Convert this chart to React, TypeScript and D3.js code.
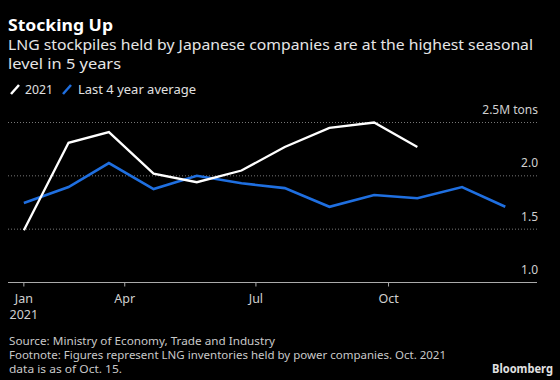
import React from "react";
import * as d3 from "d3";

const pointDates = [
  "2021-01-21", "2021-02-21", "2021-03-21", "2021-04-21", "2021-05-21", "2021-06-21",
  "2021-07-21", "2021-08-21", "2021-09-21", "2021-10-21", "2021-11-21", "2021-12-21",
];
const series2021 = [1.49, 2.31, 2.41, 2.02, 1.94, 2.05, 2.27, 2.45, 2.5, 2.27];
const seriesAvg = [1.745, 1.895, 2.12, 1.876, 2.0, 1.93, 1.885, 1.71, 1.82, 1.79, 1.895, 1.71];
const xTickDates = ["2021-01-21", "2021-04-01", "2021-07-01", "2021-10-01"];
const xTickLabels = [["Jan", "2021"], ["Apr"], ["Jul"], ["Oct"]];
const yTicks = [1.0, 1.5, 2.0, 2.5];
const yTickLabels = ["1.0", "1.5", "2.0", "2.5M tons"];
const legendLabels = ["2021", "Last 4 year average"];

const W = 560;
const H = 380;
const FONT = "'Noto Sans', 'DejaVu Sans', sans-serif";
const WHITE = "#ffffff";
const BLUE = "#1f6fe0";

export default function App() {
  const x = d3
    .scaleUtc()
    .domain([new Date("2021-01-10T00:00:00Z"), new Date("2022-01-12T00:00:00Z")])
    .range([8, 537]);
  const y = d3.scaleLinear().domain([1, 2.5]).range([282.5, 122.5]);

  const pd = pointDates.map((s) => new Date(s + "T00:00:00Z"));
  const line = d3
    .line<number>()
    .x((_, i) => x(pd[i]))
    .y((v) => y(v));

  return (
    <svg
      width={W}
      height={H}
      style={{ position: "absolute", left: 0, top: 0, background: "#000" }}
      fontFamily={FONT}
    >
      <rect x={0} y={0} width={W} height={H} fill="#000" />
      {/* Title */}
      <text x={8} y={31} fill="#fff" fontSize={16.5} fontWeight="bold" textLength={105} lengthAdjust="spacingAndGlyphs">
        Stocking Up
      </text>
      <text x={8} y={50} fill="#e6e6e6" fontSize={14} textLength={525} lengthAdjust="spacingAndGlyphs">
        LNG stockpiles held by Japanese companies are at the highest seasonal
      </text>
      <text x={8} y={69} fill="#e6e6e6" fontSize={14} textLength={113} lengthAdjust="spacingAndGlyphs">
        level in 5 years
      </text>

      {/* Legend */}
      <line x1={11} y1={94} x2={19} y2={85} stroke={WHITE} strokeWidth={2.5} />
      <text x={25} y={94} fill="#e0e0e0" fontSize={12.5} textLength={28} lengthAdjust="spacingAndGlyphs">
        {legendLabels[0]}
      </text>
      <line x1={63} y1={94} x2={71} y2={85} stroke={BLUE} strokeWidth={2.5} />
      <text x={78} y={94} fill="#e0e0e0" fontSize={12.5} textLength={118} lengthAdjust="spacingAndGlyphs">
        {legendLabels[1]}
      </text>

      {/* Grid */}
      {yTicks.map((t, i) =>
        t === 1.0 ? null : (
          <line
            key={"g" + i}
            x1={8}
            x2={537}
            y1={y(t)}
            y2={y(t)}
            stroke="#777"
            strokeWidth={1}
            strokeDasharray="1,2"
          />
        )
      )}
      {yTicks.map((t, i) => (
        <text
          key={"yl" + i}
          x={538}
          y={y(t) - 8.5}
          fill="#d0d0d0"
          fontSize={12}
          textAnchor="end"
        >
          {yTickLabels[i]}
        </text>
      ))}

      {/* X axis */}
      <line x1={8} x2={537} y1={y(1)} y2={y(1)} stroke="#aaa" strokeWidth={1} />
      {xTickDates.map((s, i) => {
        const xx = x(new Date(s + "T00:00:00Z"));
        return (
          <g key={"xt" + i}>
            <line x1={xx} x2={xx} y1={y(1)} y2={y(1) + 4} stroke="#aaa" strokeWidth={1} />
            {xTickLabels[i].map((lab, j) => (
              <text
                key={j}
                x={xx}
                y={303 + j * 16}
                fill="#d0d0d0"
                fontSize={12.5}
                textAnchor="middle"
              >
                {lab}
              </text>
            ))}
          </g>
        );
      })}

      {/* Lines */}
      <path d={line(seriesAvg) || ""} fill="none" stroke={BLUE} strokeWidth={2.6} strokeLinejoin="miter" />
      <path d={line(series2021) || ""} fill="none" stroke={WHITE} strokeWidth={2.3} strokeLinejoin="miter" />

      {/* Footer */}
      <text x={9} y={345} fill="#c8c8c8" fontSize={11} textLength={266} lengthAdjust="spacingAndGlyphs">
        Source: Ministry of Economy, Trade and Industry
      </text>
      <text x={9} y={359} fill="#c8c8c8" fontSize={11} textLength={437} lengthAdjust="spacingAndGlyphs">
        Footnote: Figures represent LNG inventories held by power companies. Oct. 2021
      </text>
      <text x={9} y={373} fill="#c8c8c8" fontSize={11} textLength={113} lengthAdjust="spacingAndGlyphs">
        data is as of Oct. 15.
      </text>
      <text x={553} y={373} fill="#e0e0e0" fontSize={11.5} fontWeight="bold" textAnchor="end" textLength={61} lengthAdjust="spacingAndGlyphs">
        Bloomberg
      </text>
    </svg>
  );
}
